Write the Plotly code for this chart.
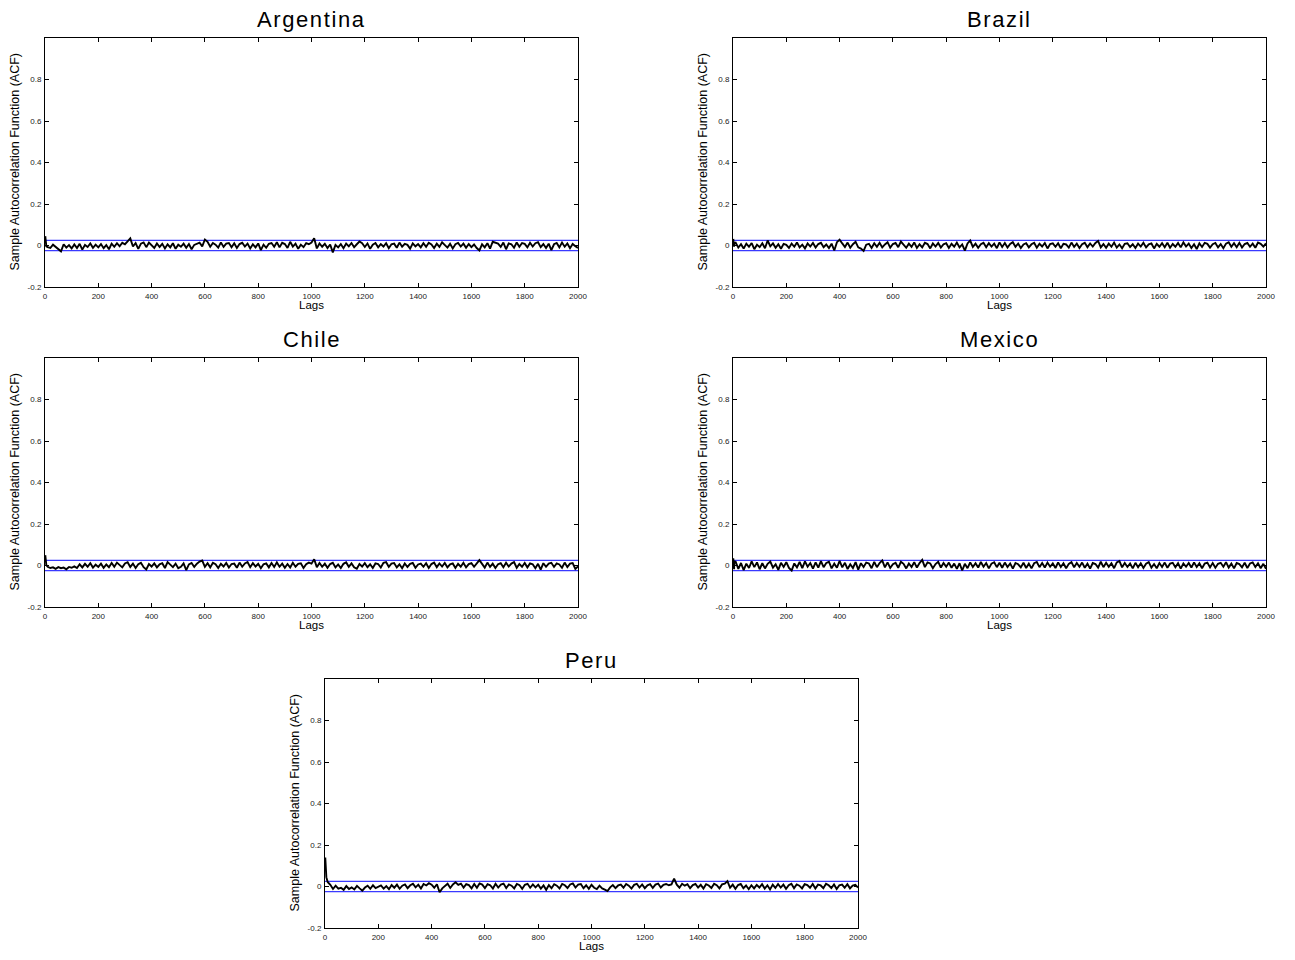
import plotly.graph_objects as go

# page is 1295x960; the browser body keeps an 8 px margin, so the figure is 16 px smaller
PAGE_W, PAGE_H = 1295, 960
BODY_MARGIN = 8
W, H = PAGE_W - 2 * BODY_MARGIN, PAGE_H - 2 * BODY_MARGIN

countries = ["Argentina", "Brazil", "Chile", "Mexico", "Peru"]

# first lags (1..5) read individually, then one value every 10 lags (10..2000)
head_lags = [1, 2, 3, 4, 5]
body_lags = list(range(10, 2001, 10))

argentina_head = [0.045, 0.03, 0.012, 0.02, -0.004]
argentina_acf = [
    -0.008, -0.012, 0.004, -0.006, -0.015, -0.028, 0.006, -0.01, 0.002, -0.014,
    0.005, -0.012, 0.008, -0.02, 0.003, -0.007, 0.01, -0.011, 0.004, -0.009,
    0.007, -0.013, 0.002, -0.018, 0.009, -0.006, 0.011, -0.004, 0.013, 0.006,
    0.02, 0.034, -0.005, 0.012, -0.016, 0.009, 0.015, -0.008, 0.014, 0.003,
    -0.012, 0.01, -0.007, 0.008, -0.014, 0.006, -0.009, 0.011, -0.016, 0.004,
    -0.006, 0.009, -0.011, 0.007, -0.018, 0.003, 0.008, 0.014, -0.004, 0.029,
    0.018, -0.006, 0.012, 0.004, -0.01, 0.015, -0.007, 0.009, 0.012, -0.008,
    0.011, -0.012, 0.007, 0.013, -0.005, 0.009, -0.014, 0.006, -0.009, 0.01,
    -0.022, 0.004, -0.011, 0.008, 0.012, -0.006, 0.016, -0.009, 0.013, 0.007,
    -0.012, 0.018, -0.005, 0.009, -0.016, 0.004, -0.008, 0.011, 0.006, 0.014,
    0.035, -0.014, 0.01, -0.006, 0.008, -0.012, 0.005, -0.033, 0.003, -0.009,
    0.007, -0.013, 0.009, -0.004, 0.012, -0.008, 0.006, 0.019, 0.011, -0.007,
    0.01, -0.016, 0.004, 0.012, -0.009, 0.007, -0.005, 0.011, -0.013, 0.006,
    0.009, -0.011, 0.014, -0.006, 0.008, 0.003, -0.015, 0.01, -0.004, 0.007,
    -0.009, 0.011, -0.006, 0.013, 0.005, -0.012, 0.009, -0.007, 0.015, 0.004,
    -0.01, 0.008, -0.014, 0.006, 0.012, -0.005, 0.009, -0.011, 0.007, -0.008,
    0.005, -0.012, -0.024, 0.006, -0.009, 0.011, -0.015, 0.018, 0.012, 0.009,
    -0.007, 0.014, -0.018, 0.01, 0.006, -0.011, 0.015, -0.006, 0.012, 0.008,
    -0.009, 0.013, -0.005, 0.011, 0.016, -0.008, 0.007, -0.012, 0.009, -0.022,
    0.006, 0.012, -0.009, 0.014, -0.006, 0.01, -0.013, 0.007, -0.004, -0.012,
]

brazil_head = [0.032, 0.02, 0.01, -0.006, 0.012]
brazil_acf = [
    0.014, -0.01, 0.006, -0.015, 0.009, -0.006, 0.012, -0.018, 0.004, -0.008,
    0.011, -0.013, 0.024, -0.004, 0.01, -0.011, 0.006, -0.016, 0.008, 0.003,
    -0.012, 0.009, -0.006, 0.015, -0.009, 0.004, -0.014, 0.01, -0.005, 0.012,
    -0.01, 0.007, 0.013, -0.008, 0.005, -0.012, 0.009, -0.024, 0.016, 0.028,
    0.01, -0.007, 0.014, -0.011, 0.006, 0.018, -0.009, -0.015, -0.026, 0.004,
    0.008, -0.012, 0.011, -0.006, 0.013, -0.009, 0.005, 0.016, -0.01, 0.007,
    0.012, -0.008, 0.019, 0.004, -0.011, 0.009, -0.007, 0.015, -0.012, 0.006,
    -0.009, 0.013, 0.007, -0.014, 0.01, -0.005, 0.012, -0.01, 0.006, 0.011,
    -0.012, 0.008, -0.006, 0.014, -0.009, 0.005, -0.025, 0.01, 0.024, -0.007,
    0.009, -0.011, 0.006, 0.013, -0.008, 0.011, -0.005, 0.009, -0.013, 0.015,
    -0.007, 0.012, -0.01, 0.007, 0.016, -0.006, 0.009, -0.012, 0.005, 0.011,
    -0.009, 0.006, 0.013, -0.011, 0.008, -0.005, 0.012, -0.014, 0.007, 0.01,
    -0.006, 0.011, -0.013, 0.008, 0.005, -0.01, 0.014, -0.007, 0.009, -0.012,
    0.006, 0.013, -0.008, 0.01, -0.005, 0.012, 0.022, -0.009, 0.007, -0.011,
    0.009, -0.006, 0.014, -0.01, 0.005, -0.013, 0.008, 0.011, -0.007, 0.006,
    -0.012, 0.009, -0.005, 0.013, -0.009, 0.006, 0.01, -0.014, 0.008, -0.006,
    0.011, -0.008, 0.013, -0.011, 0.007, -0.006, 0.012, -0.009, 0.015, -0.005,
    0.009, -0.012, 0.006, -0.017, 0.01, -0.007, 0.013, 0.008, -0.01, 0.006,
    0.012, -0.009, 0.007, -0.013, 0.009, 0.016, -0.006, 0.011, -0.008, 0.013,
    -0.01, 0.007, 0.012, -0.006, 0.009, -0.011, 0.014, 0.008, -0.005, 0.01,
]

chile_head = [0.05, 0.025, 0.015, 0.006, 0.002]
chile_acf = [
    -0.006, -0.012, -0.009, -0.016, -0.008, -0.013, -0.01, -0.018, -0.007, -0.011,
    -0.004, -0.012, 0.006, -0.009, 0.008, -0.006, 0.011, -0.01, 0.004, -0.007,
    0.009, -0.011, 0.005, -0.008, 0.012, -0.006, 0.014, 0.003, -0.009, 0.01,
    0.016, -0.007, 0.009, -0.012, 0.006, 0.013, -0.008, -0.019, 0.007, -0.005,
    0.01, -0.009, 0.006, 0.011, -0.012, 0.016, 0.004, -0.008, 0.009, -0.013,
    -0.006, 0.01, -0.022, 0.005, 0.012, -0.007, 0.009, 0.019, 0.024, -0.006,
    0.011, -0.009, 0.013, 0.006, -0.012, 0.008, -0.005, 0.012, -0.01, 0.007,
    0.009, -0.011, 0.014, -0.006, 0.01, 0.017, -0.008, 0.011, -0.005, 0.008,
    -0.013, 0.006, 0.01, -0.009, 0.012, -0.007, 0.015, -0.006, 0.009, -0.011,
    0.007, -0.01, 0.013, -0.006, 0.008, 0.011, -0.012, 0.006, 0.014, 0.009,
    0.03, -0.008, 0.012, -0.006, 0.009, -0.011, 0.007, 0.013, -0.009, 0.005,
    -0.012, 0.008, 0.015, -0.006, 0.01, -0.009, -0.016, 0.007, -0.005, 0.011,
    -0.008, 0.006, -0.012, 0.01, 0.007, -0.01, 0.013, 0.016, -0.006, 0.009,
    0.012, -0.009, 0.006, -0.013, 0.01, -0.007, 0.008, 0.012, -0.011, 0.005,
    0.009, -0.006, 0.011, -0.012, 0.007, 0.014, -0.008, 0.01, -0.005, 0.012,
    -0.009, 0.006, 0.01, -0.012, 0.008, -0.006, 0.013, -0.009, 0.007, 0.011,
    -0.006, 0.012, 0.026, 0.008, -0.01, 0.014, -0.007, 0.009, -0.012, 0.006,
    0.011, -0.008, 0.013, -0.005, 0.009, 0.016, -0.011, 0.007, -0.006, 0.012,
    -0.009, 0.01, 0.006, -0.013, 0.008, -0.02, 0.011, -0.006, 0.009, 0.013,
    -0.007, 0.01, 0.005, -0.011, 0.014, -0.008, 0.009, 0.012, -0.016, -0.004,
]

mexico_head = [0.035, -0.01, 0.03, -0.018, 0.02]
mexico_acf = [
    0.018, -0.016, 0.012, -0.022, 0.009, -0.012, 0.02, -0.008, 0.015, -0.018,
    0.011, -0.014, 0.008, 0.019, -0.01, 0.006, -0.021, 0.013, -0.007, 0.016,
    -0.012, -0.024, 0.01, -0.009, 0.017, -0.013, 0.02, -0.006, 0.012, -0.015,
    0.015, -0.01, 0.021, -0.008, 0.012, 0.018, -0.014, 0.009, -0.011, 0.022,
    -0.009, 0.013, -0.017, 0.006, -0.012, 0.016, -0.02, 0.011, -0.007, 0.014,
    0.01, -0.013, 0.017, -0.008, 0.012, 0.024, -0.009, 0.015, -0.012, 0.006,
    0.013, -0.011, 0.018, 0.008, -0.014, 0.01, -0.007, 0.016, -0.01, 0.012,
    0.027, -0.008, 0.015, 0.01, -0.013, 0.007, 0.018, -0.01, 0.012, -0.006,
    0.014, -0.011, 0.009, -0.016, 0.011, -0.024, 0.008, -0.013, 0.015, -0.007,
    0.011, -0.01, 0.017, -0.006, 0.012, -0.014, 0.009, 0.016, -0.008, 0.013,
    -0.011, 0.014, -0.007, 0.01, -0.015, 0.012, 0.006, -0.009, 0.013, -0.012,
    0.009, -0.014, 0.011, 0.017, -0.008, 0.012, -0.01, 0.014, -0.006, 0.01,
    -0.012, 0.015, -0.007, 0.011, -0.013, 0.008, 0.016, -0.009, 0.012, -0.006,
    0.014, -0.011, 0.009, -0.015, 0.012, 0.007, -0.01, 0.018, -0.008, 0.013,
    -0.006, 0.011, -0.013, 0.015, 0.021, -0.009, 0.012, -0.007, 0.01, -0.014,
    0.013, -0.008, 0.011, -0.012, 0.009, 0.016, -0.01, 0.007, -0.013, 0.012,
    -0.007, 0.014, -0.011, 0.009, 0.013, -0.008, 0.011, -0.015, 0.01, -0.006,
    0.012, -0.01, 0.015, -0.007, 0.011, -0.013, 0.009, 0.014, -0.009, 0.012,
    -0.011, 0.008, 0.013, -0.006, 0.016, -0.01, 0.009, -0.014, 0.012, 0.007,
    -0.009, 0.013, -0.012, 0.01, 0.015, -0.007, 0.011, -0.013, 0.008, -0.016,
]

peru_head = [0.14, 0.08, 0.07, 0.06, 0.045]
peru_acf = [
    0.022, 0.008, -0.012, 0.004, -0.01, -0.006, -0.016, 0.002, -0.012, -0.004,
    -0.014, 0.003, -0.009, -0.02, -0.005, 0.004, -0.011, 0.006, -0.008, -0.002,
    0.005, -0.01, 0.002, -0.013, 0.007, -0.006, 0.009, -0.011, 0.004, 0.01,
    -0.008, 0.006, 0.013, -0.004, 0.009, -0.01, 0.012, 0.005, 0.016, 0.009,
    -0.006, 0.011, -0.028, -0.009, 0.004, 0.013, -0.007, 0.01, 0.02, 0.008,
    0.014, -0.005, 0.011, 0.007, -0.009, 0.012, -0.006, 0.015, 0.009, -0.008,
    0.011, 0.006, -0.01, 0.013, -0.005, 0.009, 0.014, -0.007, 0.01, 0.004,
    -0.009, 0.012, 0.006, -0.011, 0.008, 0.013, -0.006, 0.01, -0.004, 0.009,
    -0.01, 0.005, -0.016, 0.007, -0.008, 0.011, 0.004, -0.009, 0.012, 0.006,
    -0.007, 0.01, 0.015, -0.005, 0.009, 0.012, -0.008, 0.006, -0.011, 0.008,
    -0.006, -0.012, 0.004, -0.009, -0.015, -0.022, -0.004, 0.007, -0.008, 0.005,
    0.009, -0.006, 0.012, 0.004, -0.01, 0.008, 0.013, -0.005, 0.01, -0.008,
    0.006, 0.011, -0.007, 0.009, 0.014, -0.005, 0.008, 0.012, 0.006, 0.01,
    0.038, 0.009, -0.006, 0.013, 0.004, 0.011, -0.008, 0.007, 0.012, -0.005,
    0.008, -0.01, 0.011, 0.005, -0.007, 0.013, 0.006, -0.009, 0.01, 0.014,
    0.026, -0.006, 0.009, -0.011, 0.007, 0.012, -0.008, 0.005, -0.013, 0.006,
    -0.009, 0.008, -0.005, 0.011, -0.01, 0.006, -0.014, 0.009, -0.007, 0.012,
    -0.005, 0.009, -0.011, 0.006, 0.013, -0.008, 0.01, 0.004, -0.009, 0.011,
    0.007, -0.006, 0.012, -0.01, 0.009, 0.005, -0.008, 0.013, 0.006, -0.007,
    0.01, -0.012, 0.006, 0.009, -0.006, 0.011, -0.009, 0.004, 0.008, -0.005,
]

conf_bound = 0.025   # approx. 95% band drawn in blue

x_ticks = [0, 200, 400, 600, 800, 1000, 1200, 1400, 1600, 1800, 2000]
y_ticks = [-0.2, 0, 0.2, 0.4, 0.6, 0.8]
y_tick_text = ["-0.2", "0", "0.2", "0.4", "0.6", "0.8"]

series = {
    "Argentina": (argentina_head, argentina_acf),
    "Brazil": (brazil_head, brazil_acf),
    "Chile": (chile_head, chile_acf),
    "Mexico": (mexico_head, mexico_acf),
    "Peru": (peru_head, peru_acf),
}

# panel boxes in page pixels: left, right, top, bottom
boxes = {
    "Argentina": (45, 578, 38, 287),
    "Brazil": (733, 1266, 38, 287),
    "Chile": (45, 578, 358, 607),
    "Mexico": (733, 1266, 358, 607),
    "Peru": (325, 858, 679, 928),
}

def px(x):
    return (x - BODY_MARGIN) / W

def py(y):
    return 1 - (y - BODY_MARGIN) / H

FONT = "Liberation Sans, Arial, sans-serif"

fig = go.Figure()
annotations = []
layout_axes = {}

for i, name in enumerate(countries, start=1):
    head, body = series[name]
    l, r, t, b = boxes[name]
    xa = "x" if i == 1 else f"x{i}"
    ya = "y" if i == 1 else f"y{i}"
    # confidence band
    for s in (1, -1):
        fig.add_trace(go.Scatter(
            x=[0, 2000], y=[s * conf_bound, s * conf_bound], mode="lines",
            line=dict(color="#3a3aff", width=1.2), xaxis=xa, yaxis=ya,
            showlegend=False, hoverinfo="skip"))
    fig.add_trace(go.Scatter(
        x=head_lags + body_lags, y=head + body, mode="lines",
        line=dict(color="black", width=1.9), xaxis=xa, yaxis=ya,
        showlegend=False, name=name))

    axis_common = dict(
        showline=True, linecolor="black", linewidth=1, mirror="ticks",
        ticks="inside", ticklen=4, tickwidth=1, tickcolor="black",
        showgrid=False, zeroline=False, automargin=False,
        tickfont=dict(family=FONT, size=8, color="#222"),
    )
    xkey = "xaxis" if i == 1 else f"xaxis{i}"
    ykey = "yaxis" if i == 1 else f"yaxis{i}"
    layout_axes[xkey] = dict(
        axis_common, domain=[px(l), px(r)], range=[0, 2000],
        tickvals=x_ticks, ticktext=[str(v) for v in x_ticks],
        anchor=ya, ticklabelstandoff=1)
    layout_axes[ykey] = dict(
        axis_common, domain=[py(b), py(t)], range=[-0.2, 1.0],
        tickvals=y_ticks, ticktext=y_tick_text, anchor=xa,
        ticklabelstandoff=1)

    # title
    annotations.append(dict(
        text=f'<span style="letter-spacing:1.6px">{name}</span>',
        x=px((l + r) / 2), y=py(t - 18.5), xref="paper", yref="paper",
        xanchor="center", yanchor="middle", showarrow=False,
        font=dict(family=FONT, size=22, color="black")))
    # x label
    annotations.append(dict(
        text="Lags", x=px((l + r) / 2), y=py(b + 17.5), xref="paper", yref="paper",
        xanchor="center", yanchor="middle", showarrow=False,
        font=dict(family=FONT, size=11.5, color="black")))
    # y label
    annotations.append(dict(
        text="Sample Autocorrelation Function (ACF)", x=px(l - 31),
        y=py((t + b) / 2), xref="paper", yref="paper", textangle=-90,
        xanchor="center", yanchor="middle", showarrow=False,
        font=dict(family=FONT, size=12.5, color="black")))

fig.update_layout(
    width=W, height=H, margin=dict(l=0, r=0, t=0, b=0, pad=0),
    paper_bgcolor="white", plot_bgcolor="white",
    annotations=annotations, **layout_axes)

fig.write_html("out.html")
